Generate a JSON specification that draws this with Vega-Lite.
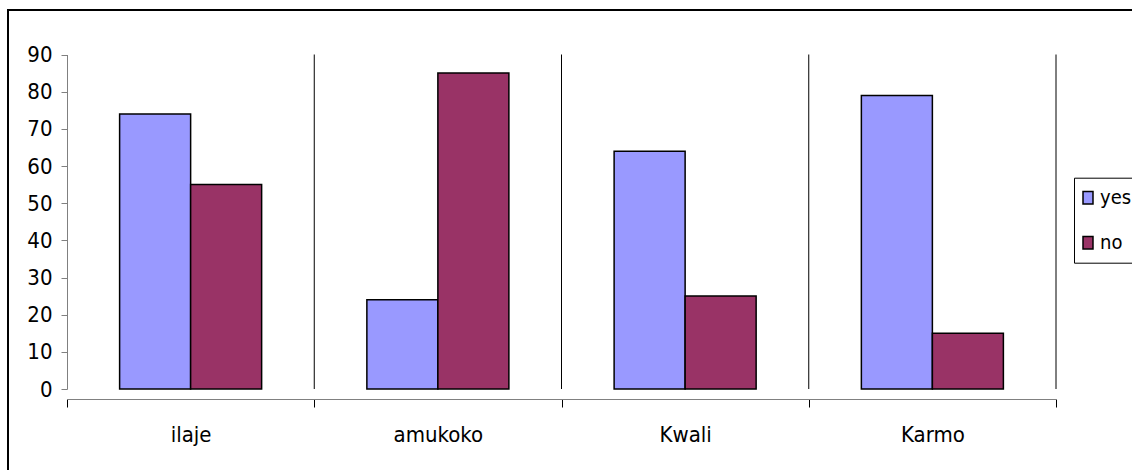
{
  "$schema": "https://vega.github.io/schema/vega-lite/v6.json",
  "width": 1140,
  "height": 480,
  "autosize": {"type": "none"},
  "padding": {"left": 8, "top": 10, "right": 0, "bottom": 0},
  "background": "white",
  "config": {
    "view": {"stroke": "#000", "strokeWidth": 2, "fill": "white"},
    "font": "DejaVu Sans Condensed, Liberation Sans Narrow, sans-serif"
  },
  "layer": [
    {
      "data": {"values": [{"boundary": 1}, {"boundary": 2}, {"boundary": 3}, {"boundary": 4}]},
      "mark": {"type": "rule", "color": "#000", "strokeWidth": 1},
      "encoding": {
        "x": {
          "field": "boundary",
          "type": "quantitative",
          "scale": {"domain": [0, 4], "range": [59, 1048], "nice": false, "zero": false},
          "axis": null
        },
        "y": {
          "datum": 90,
          "type": "quantitative",
          "scale": {"domain": [0, 90], "range": [379, 44.5], "nice": false}
        },
        "y2": {"datum": 0}
      }
    },
    {
      "data": {
        "values": [
          {"location": "ilaje", "answer": "yes", "count": 74},
          {"location": "ilaje", "answer": "no", "count": 55},
          {"location": "amukoko", "answer": "yes", "count": 24},
          {"location": "amukoko", "answer": "no", "count": 85},
          {"location": "Kwali", "answer": "yes", "count": 64},
          {"location": "Kwali", "answer": "no", "count": 25},
          {"location": "Karmo", "answer": "yes", "count": 79},
          {"location": "Karmo", "answer": "no", "count": 15}
        ]
      },
      "mark": {"type": "bar", "stroke": "#000", "strokeWidth": 1.5},
      "encoding": {
        "x": {
          "field": "location",
          "type": "nominal",
          "sort": ["ilaje", "amukoko", "Kwali", "Karmo"],
          "scale": {"range": [59, 1048], "paddingInner": 0, "paddingOuter": 0},
          "axis": {
            "orient": "bottom",
            "offset": -91,
            "title": null,
            "tickBand": "extent",
            "tickSize": 8,
            "tickColor": "#000",
            "domainColor": "#808080",
            "grid": false,
            "labelAngle": 0,
            "labelFontSize": 22,
            "labelPadding": 17,
            "labelColor": "#000"
          }
        },
        "xOffset": {
          "field": "answer",
          "type": "nominal",
          "sort": ["yes", "no"],
          "scale": {"paddingInner": 0, "paddingOuter": 0.741}
        },
        "y": {
          "field": "count",
          "type": "quantitative",
          "scale": {"domain": [0, 90], "range": [379, 44.5], "nice": false},
          "axis": {
            "offset": -59,
            "title": null,
            "grid": false,
            "values": [0, 10, 20, 30, 40, 50, 60, 70, 80, 90],
            "tickSize": 6,
            "tickColor": "#808080",
            "domainColor": "#808080",
            "labelFontSize": 22,
            "labelPadding": 9,
            "labelColor": "#000"
          }
        },
        "color": {
          "field": "answer",
          "type": "nominal",
          "sort": ["yes", "no"],
          "scale": {"domain": ["yes", "no"], "range": ["#9999FF", "#993366"]},
          "legend": {
            "orient": "none",
            "legendX": 1066,
            "legendY": 167.7,
            "title": null,
            "direction": "vertical",
            "fillColor": "white",
            "strokeColor": "#000",
            "padding": 10,
            "symbolType": "M-0.8,-1H0.8V1H-0.8Z",
            "symbolSize": 156,
            "symbolStrokeColor": "#000",
            "symbolStrokeWidth": 1.5,
            "symbolOpacity": 1,
            "symbolOffset": -6,
            "labelFontSize": 20,
            "labelOffset": 2,
            "rowPadding": 25,
            "labelColor": "#000"
          }
        }
      }
    }
  ],
  "resolve": {"scale": {"x": "independent"}}
}
